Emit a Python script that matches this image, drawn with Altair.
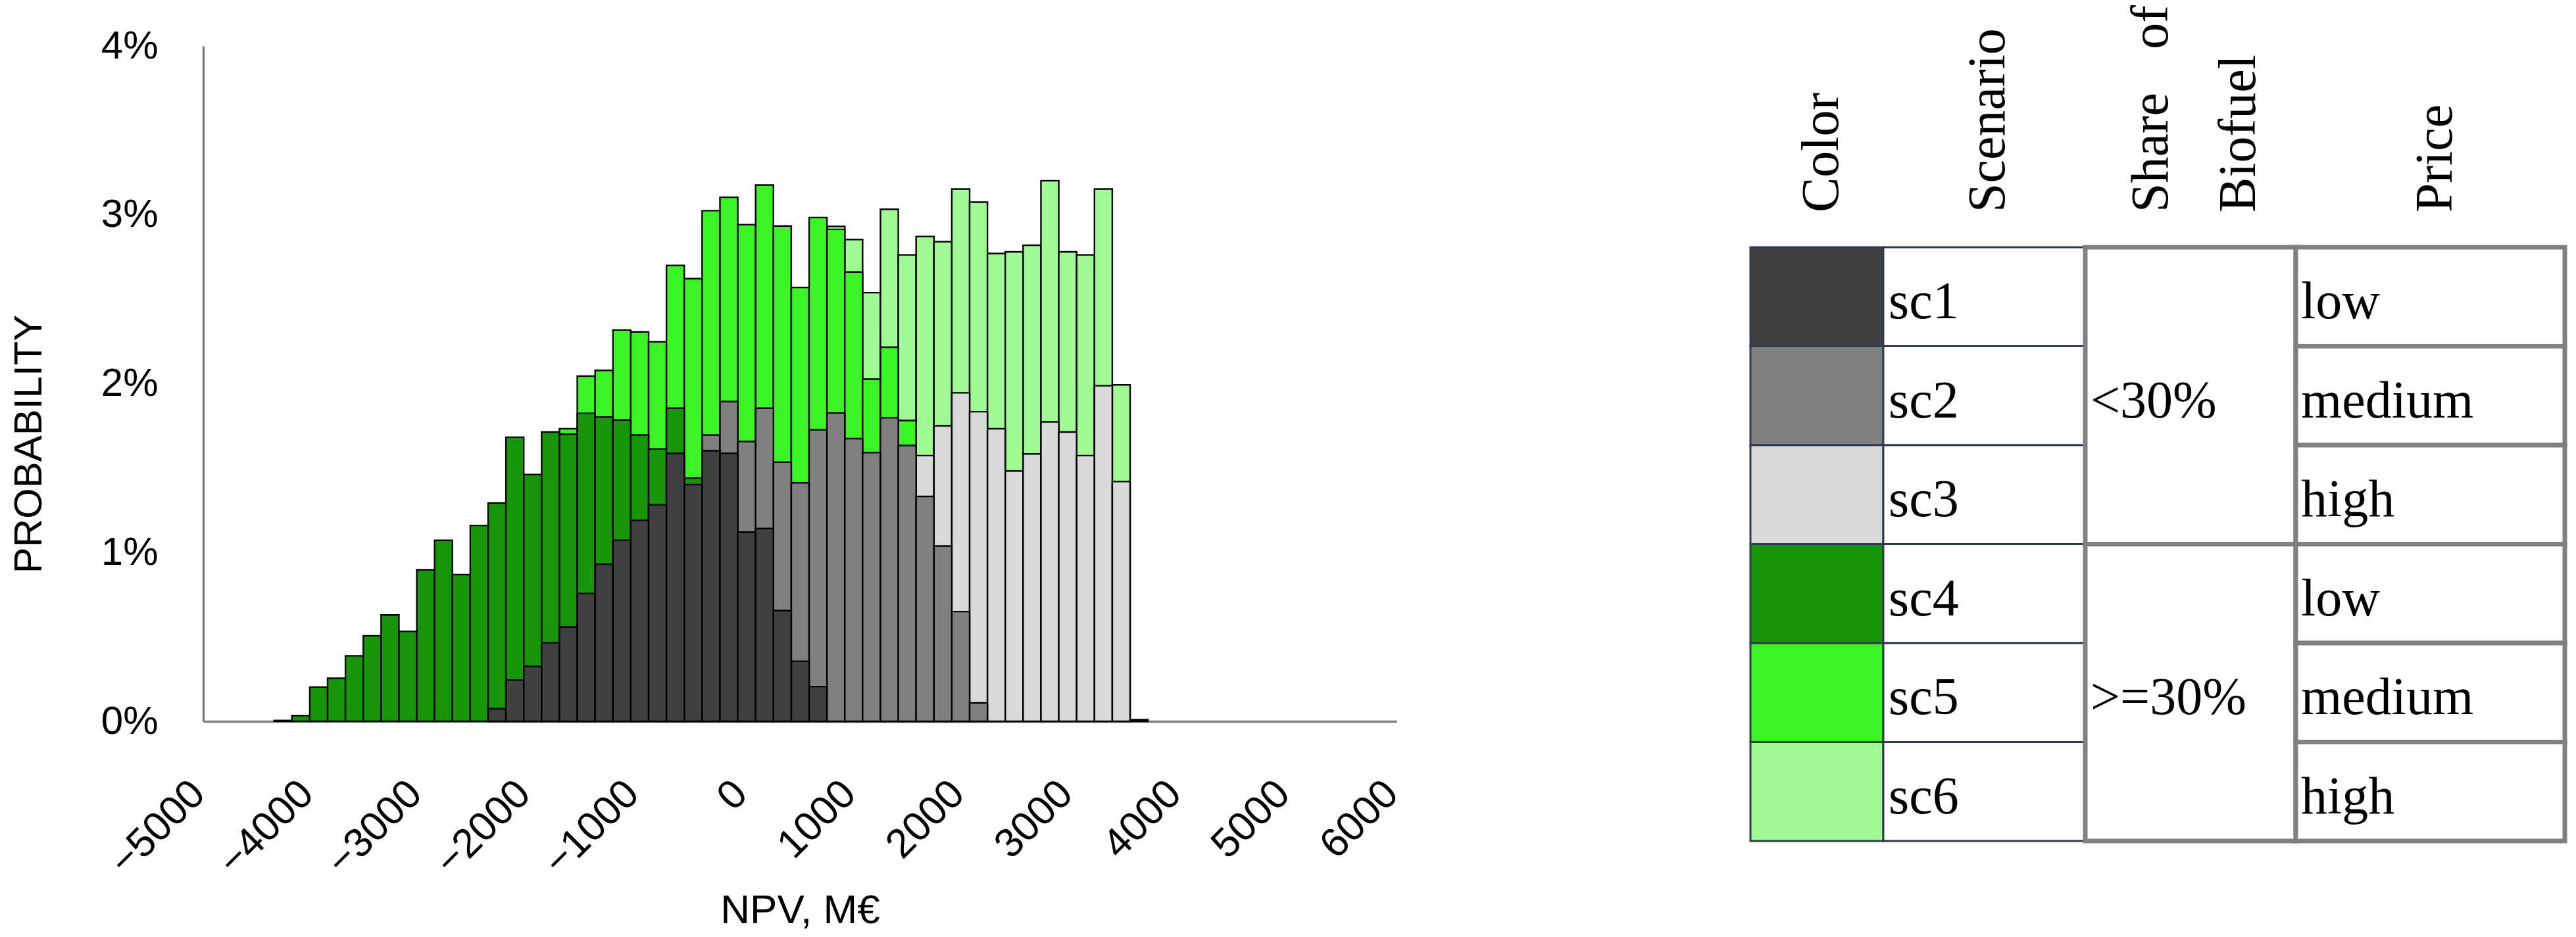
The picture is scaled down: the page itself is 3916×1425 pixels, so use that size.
import altair as alt
import pandas as pd

N = None

# ---------------- histogram data (probability in %, one value per bin) ----------------
bin_start = -4347.0   # left edge of first bin, M€
bin_width = 164.4     # bin width, M€

sc1 = [N] * 12 + [0.075, 0.245, 0.325, 0.466, 0.559, 0.757, 0.931, 1.072, 1.191, 1.283,
                  1.587, 1.402, 1.603, 1.587, 1.121, 1.142, 0.656, 0.356, 0.206] + [N] * 18
sc2 = [N] * 24 + [1.696, 1.894, 1.657, 1.855, 1.535, 1.413, 1.727, 1.826, 1.675, 1.592,
                  1.798, 1.634, 1.332, 1.038, 0.650, 0.109] + [N] * 9
sc3 = [N] * 36 + [1.574, 1.751, 1.946, 1.834, 1.733, 1.483, 1.584, 1.774, 1.714, 1.574,
                  1.988, 1.420, 0.010]
sc4 = [0.005, 0.034, 0.203, 0.255, 0.388, 0.507, 0.630, 0.533, 0.898, 1.072, 0.869, 1.160,
       1.293, 1.683, 1.462, 1.714, 1.701, 1.824, 1.803, 1.785, 1.696, 1.613, 1.855, 1.441] + [N] * 25
sc5 = [N] * 16 + [1.733, 2.045, 2.079, 2.318, 2.307, 2.248, 2.700, 2.622, 3.025, 3.104,
                  2.942, 3.176, 2.934, 2.570, 2.984, 2.914, 2.661, 2.027, 2.216, 1.782] + [N] * 13
sc6 = [N] * 31 + [2.932, 2.854, 2.539, 3.033, 2.763, 2.872, 2.841, 3.153, 3.075, 2.771,
                  2.781, 2.820, 3.202, 2.781, 2.763, 3.153, 1.993] + [N]

x_ticks = [-5000, -4000, -3000, -2000, -1000, 0, 1000, 2000, 3000, 4000, 5000, 6000]
y_ticks = [0.0, 0.01, 0.02, 0.03, 0.04]

# ---------------- legend table data ----------------
scenarios = ["sc1", "sc2", "sc3", "sc4", "sc5", "sc6"]
colors = ["#404040", "#808080", "#d9d9d9", "#179609", "#3bf425", "#a0fa94"]
share_groups = ["<30%", ">=30%"]
prices = ["low", "medium", "high", "low", "medium", "high"]
headers = ["Color", "Scenario", "Share of Biofuel", "Price"]

series = {"sc1": sc1, "sc2": sc2, "sc3": sc3, "sc4": sc4, "sc5": sc5, "sc6": sc6}
for k, v in series.items():
    assert len(v) == 49, (k, len(v))

# ---------------- styles / layout ----------------
SANS = "Liberation Sans, Arial, sans-serif"
SERIF = "Liberation Serif, DejaVu Serif, serif"
AXIS_GREY = "#808080"

HIST_W, HIST_H = 1814, 1027
T_W = 1238
ROW_H = 150.5
TOP_ROWS = (376 - 70) / ROW_H
T_H = TOP_ROWS * ROW_H + 6 * ROW_H
col_edges = [0, 202, 509, 829, 1238]

# ---------------- histogram ----------------
rows = []
for name in ["sc6", "sc5", "sc4", "sc3", "sc2", "sc1"]:   # back to front
    for i, v in enumerate(series[name]):
        if v is None:
            continue
        x0 = bin_start + i * bin_width
        rows.append({"scenario": name, "x0": x0, "x1": x0 + bin_width,
                     "p": v / 100.0, "base": 0.0})
hist_df = pd.DataFrame(rows)

color_scale = alt.Scale(domain=scenarios, range=colors)

hist = alt.Chart(hist_df).mark_bar(stroke="black", strokeWidth=2.4, opacity=1).encode(
    x=alt.X("x0:Q",
            scale=alt.Scale(domain=[-5000, 6000], nice=False, zero=False),
            axis=alt.Axis(values=x_ticks, format="d", title="NPV, M€",
                          labelAngle=315, labelAlign="right", labelBaseline="middle",
                          labelPadding=100, labelOffset=-8,
                          labelFont=SANS, labelFontSize=62, labelColor="black",
                          labelOverlap=False, labelFlush=False, labelLimit=0,
                          ticks=False, tickSize=0, grid=False,
                          domainColor=AXIS_GREY, domainWidth=3.5,
                          titleFont=SANS, titleFontSize=62, titleFontWeight="normal",
                          titleColor="black", titleY=306, titleBaseline="alphabetic")),
    x2=alt.X2("x1"),
    y=alt.Y("p:Q",
            scale=alt.Scale(domain=[0, 0.04], nice=False),
            axis=alt.Axis(values=y_ticks, format=".0%", title="PROBABILITY",
                          labelPadding=69, labelFont=SANS, labelFontSize=60, labelColor="black",
                          labelLimit=0,
                          ticks=False, tickSize=0, grid=False,
                          domainColor=AXIS_GREY, domainWidth=3.5,
                          titleFont=SANS, titleFontSize=60, titleFontWeight="normal",
                          titleColor="black", titleX=-247, titleY=605,
                          titleBaseline="alphabetic")),
    y2=alt.Y2("base"),
    color=alt.Color("scenario:N", scale=color_scale, legend=None),
).properties(width=HIST_W, height=HIST_H)

# ---------------- table ----------------
tx = alt.Scale(domain=[0, T_W], nice=False, zero=False)
ty = alt.Scale(domain=[-TOP_ROWS, 6], nice=False, zero=False, reverse=True)


def X(f):
    return alt.X(f"{f}:Q", scale=tx, axis=None)


def Y(f):
    return alt.Y(f"{f}:Q", scale=ty, axis=None)


row_df = pd.DataFrame({
    "scenario": scenarios,
    "price": prices,
    "y0": list(range(6)),
})
row_df["y1"] = row_df["y0"] + 1
row_df["ytext"] = row_df["y0"] + 0.72
row_df["c0"] = col_edges[0]
row_df["c1"] = col_edges[1]
row_df["s0"] = col_edges[1]
row_df["s1"] = col_edges[2]
row_df["p0"] = col_edges[3]
row_df["p1"] = col_edges[4]
row_df["stx"] = col_edges[1] + 8
row_df["ptx"] = col_edges[3] + 8

share_df = pd.DataFrame({"share": share_groups, "y0": [0, 3], "y1": [3, 6]})
share_df["ytext"] = (share_df["y0"] + share_df["y1"]) / 2 + 0.22
share_df["x0"] = col_edges[2]
share_df["x1"] = col_edges[3]
share_df["tx"] = col_edges[2] + 8

# header words: rotated, bottom anchored (Share of Biofuel on two lines, first justified)
hdr_x = {"Color": 133, "Scenario": 386, "Share of Biofuel": (634, 767), "Price": 1066}
HDR_BOTTOM = -0.352
HDR_TOP = -2.445
hl, hr = [], []
for h in headers:
    words = h.split(" ")
    if len(words) == 1:
        hl.append({"w": h, "x": hdr_x[h], "y": HDR_BOTTOM})
    else:
        x1, x2 = hdr_x[h]
        hl.append({"w": words[0], "x": x1, "y": HDR_BOTTOM})
        hr.append({"w": words[1], "x": x1, "y": HDR_TOP})
        hl.append({"w": " ".join(words[2:]), "x": x2, "y": HDR_BOTTOM})
hl_df = pd.DataFrame(hl)
hr_df = pd.DataFrame(hr)

DARK = "#2f3a4c"

color_cells = alt.Chart(row_df).mark_rect(stroke=DARK, strokeWidth=3).encode(
    x=X("c0"), x2=alt.X2("c1"), y=Y("y0"), y2=alt.Y2("y1"),
    fill=alt.Fill("scenario:N", scale=color_scale, legend=None))
scen_cells = alt.Chart(row_df).mark_rect(stroke=DARK, strokeWidth=3, fill="white").encode(
    x=X("s0"), x2=alt.X2("s1"), y=Y("y0"), y2=alt.Y2("y1"))
share_cells = alt.Chart(share_df).mark_rect(stroke=AXIS_GREY, strokeWidth=7, fill="white").encode(
    x=X("x0"), x2=alt.X2("x1"), y=Y("y0"), y2=alt.Y2("y1"))
price_cells = alt.Chart(row_df).mark_rect(stroke=AXIS_GREY, strokeWidth=7, fill="white").encode(
    x=X("p0"), x2=alt.X2("p1"), y=Y("y0"), y2=alt.Y2("y1"))

txt = dict(font=SERIF, fontSize=80, color="black", baseline="alphabetic")
scen_text = alt.Chart(row_df).mark_text(align="left", **txt).encode(
    x=X("stx"), y=Y("ytext"), text="scenario:N")
price_text = alt.Chart(row_df).mark_text(align="left", **txt).encode(
    x=X("ptx"), y=Y("ytext"), text="price:N")
share_text = alt.Chart(share_df).mark_text(align="left", **txt).encode(
    x=X("tx"), y=Y("ytext"), text="share:N")
hdr_left = alt.Chart(hl_df).mark_text(align="left", angle=270, **txt).encode(
    x=X("x"), y=Y("y"), text="w:N")
hdr_right = alt.Chart(hr_df).mark_text(align="right", angle=270, **txt).encode(
    x=X("x"), y=Y("y"), text="w:N")

table = alt.layer(color_cells, scen_cells, share_cells, price_cells,
                  scen_text, price_text, share_text, hdr_left, hdr_right
                  ).properties(width=T_W, height=T_H)

chart = alt.hconcat(hist, table, spacing=538, bounds="flush").properties(
    padding={"left": 6, "top": 0, "right": 0, "bottom": 0}, background="white"
).configure_view(strokeWidth=0)

chart.save("out.html", embed_options={"renderer": "svg", "actions": False})
